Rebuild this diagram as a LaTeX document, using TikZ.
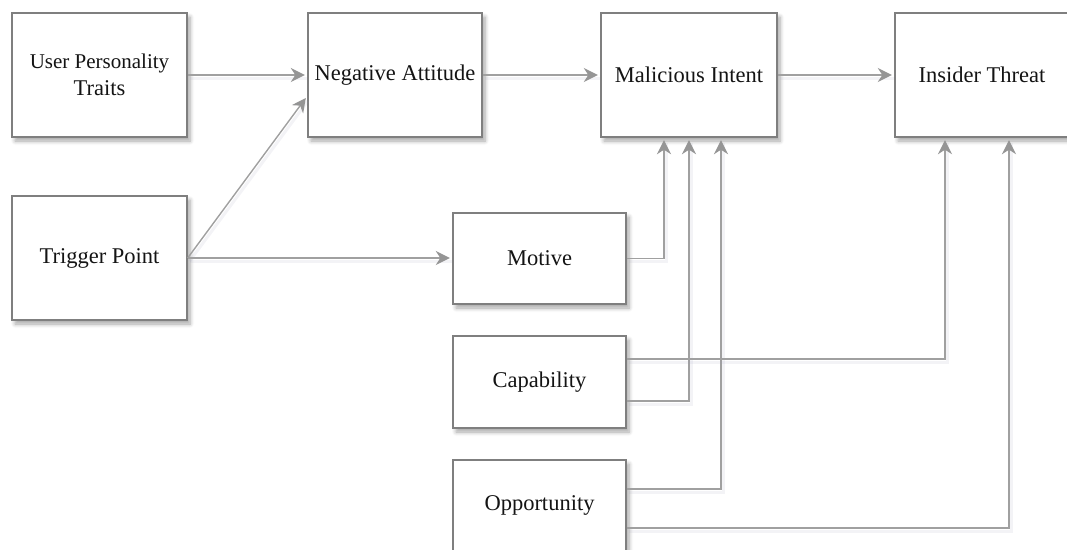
\documentclass[tikz,border=0pt]{standalone}
\usepackage{fontspec}
\setmainfont{Liberation Serif}
\usetikzlibrary{arrows.meta,calc,shadows.blur}
\definecolor{boxline}{HTML}{7F7F7F}
\definecolor{linkline}{HTML}{A0A0A0}
\definecolor{linktip}{HTML}{959595}
\definecolor{shadowtint}{HTML}{9A9CB8}
\tikzset{
  stage/.style={draw=boxline, line width=1.4pt, fill=white, inner sep=2pt,
    align=center, text=black!92,
    font=\fontsize{22.5}{27}\selectfont,
    blur shadow={shadow xshift=3pt, shadow yshift=-4pt, shadow blur steps=6,
      shadow opacity=35, shadow blur radius=4pt}},
  link/.style={draw=linkline, line width=1.4pt,
    -{Stealth[length=14pt,width=14pt,inset=4.5pt,color=linktip,fill=linktip]},
    shorten >=2.5pt,
    preaction={draw=shadowtint, line width=3pt, draw opacity=0.12, -,
      transform canvas={shift={(2pt,-3pt)}}}},
}
\begin{document}
\begin{tikzpicture}[x=1pt,y=-1pt]
  \useasboundingbox (0,0) rectangle (1067,549);
  \clip (0,0) rectangle (1067,549);

  % stages of the chain
  \node[stage, minimum width=175pt, minimum height=124pt] (upt) at (99.5,75)
    {\fontsize{21}{24.5}\selectfont User Personality\\Traits};
  \node[stage, minimum width=175pt, minimum height=124pt] (trig) at (99.5,258) {Trigger Point};
  \node[stage, minimum width=174pt, minimum height=124pt] (na) at (395,75) {Negative Attitude};
  \node[stage, minimum width=176pt, minimum height=124pt] (mi) at (689,75) {Malicious Intent};
  \node[stage, minimum width=174pt, minimum height=124pt] (it) at (982,75) {Insider Threat};
  \node[stage, minimum width=173pt, minimum height=91pt] (mot) at (539.5,258.5) {Motive};
  \node[stage, minimum width=173pt, minimum height=92pt] (cap) at (539.5,382) {Capability};
  \node[stage, minimum width=173pt, minimum height=91pt] (opp) at (539.5,505.5) {Opportunity};

  % connectors along the top row
  \draw[link] (upt) -- (na);
  \draw[link] (na) -- (mi);
  \draw[link] (mi) -- (it);

  % trigger point feeds attitude and motive
  \draw[link] (trig.east) -- ($(na.west)+(0,21)$);
  \draw[link] (trig.east) -- (trig.east -| mot.west);

  % factors feeding malicious intent
  \draw[link] (mot.east) -| ($(mi.south)+(-25,0)$);
  \draw[link] ($(cap.east)+(0,19)$) -| (mi.south);
  \draw[link] ($(opp.east)+(0,-16.5)$) -| ($(mi.south)+(32,0)$);

  % factors feeding insider threat
  \draw[link] ($(cap.east)+(0,-23)$) -| ($(it.south)+(-37,0)$);
  \draw[link] ($(opp.east)+(0,22.5)$) -| ($(it.south)+(27,0)$);
\end{tikzpicture}
\end{document}
